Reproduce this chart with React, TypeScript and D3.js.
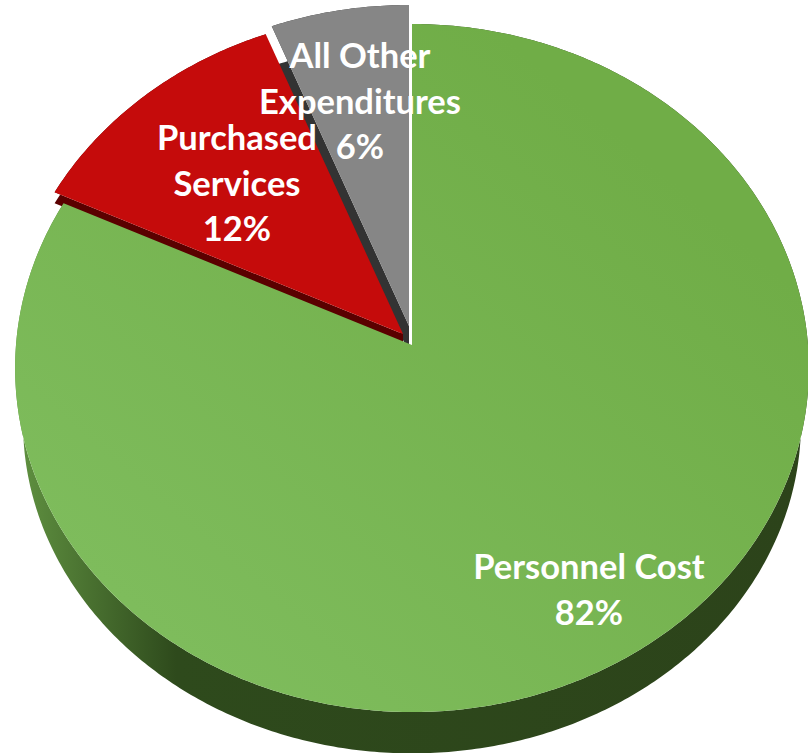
// 3D exploded pie: budget share by expenditure type
import * as d3 from "d3";

const categories = ["Personnel Cost", "Purchased Services", "All Other Expenditures"];
const values = [82, 12, 6];
const labelLines = [["Personnel Cost"], ["Purchased", "Services"], ["All Other", "Expenditures"]];

const topColors = ["url(#greenTop)", "#c50b0b", "#868686"];
const wallColors = ["url(#greenWall)", "#5a0000", "#333333"];
const explode = [[0, 0], [-9, -11], [-3, -19]];
// lower rim of each slice: depth, x scale, y scale, radius
const wallDepth = [56, 11, 27];
const wallScaleX = [0.98, 1, 1];
const wallScaleY = [0.96, 1, 1];
const wallRadius = [1, 1, 0.96];
const labelAnchor = [[589, 579], [237, 150], [360, 68]];

const width = 808;
const height = 753;
const cx = 412;
const cy = 345;
const rx = 396;
const ry = 342.5;
const tilt = 0.0669;

// circle on the tilted plane to screen, far side is smaller
function project(angle: number, r: number, dx: number, dy: number): [number, number] {
  const u = Math.sin(angle) * r;
  const v = Math.cos(angle) * r;
  const w = 1 + tilt * v;
  return [cx + dx + (rx * u) / w, cy + dy - (ry * v) / w];
}

const line = d3.line().curve(d3.curveLinear);

export default function App() {
  const arcs = d3.pie<number>().sort(null)(values);

  const slices = arcs.map((a, i) => {
    const [dx, dy] = explode[i];
    const n = Math.max(12, Math.round((a.endAngle - a.startAngle) * 90));
    const angles = d3.range(n + 1).map((k) => a.startAngle + ((a.endAngle - a.startAngle) * k) / n);
    const rim = angles.map((t) => project(t, 1, dx, dy));
    const apex: [number, number] = [cx + dx, cy + dy];
    const top = line([apex, ...rim]) + "Z";

    // lower rim is a little smaller than the top one
    const lower = (p: [number, number]): [number, number] => [
      apex[0] + (p[0] - apex[0]) * wallScaleX[i],
      apex[1] + (p[1] - apex[1]) * wallScaleY[i] + wallDepth[i],
    ];
    const lowerRim = angles.map((t) => lower(project(t, wallRadius[i], dx, dy)));
    const wall = line([apex, ...rim, ...lowerRim.slice().reverse(), lower(apex)]) + "Z";
    return { key: categories[i], top, wall, i };
  });

  return (
    <svg
      width={width}
      height={height}
      viewBox={`0 0 ${width} ${height}`}
      style={{ position: "absolute", left: 0, top: 0, display: "block", background: "#fff" }}
    >
      <defs>
        <linearGradient id="greenTop" x1="0" y1="1" x2="1" y2="0">
          <stop offset="0.15" stopColor="#7ebc5c" />
          <stop offset="0.8" stopColor="#70ad47" />
        </linearGradient>
        <linearGradient id="greenWall" gradientUnits="userSpaceOnUse" x1="20" y1="0" x2="800" y2="0">
          <stop offset="0" stopColor="#5f9040" />
          <stop offset="0.2" stopColor="#2e4a1c" />
          <stop offset="1" stopColor="#2c431a" />
        </linearGradient>
      </defs>

      {/* back to front: gray, red, green */}
      {slices
        .slice()
        .reverse()
        .map((s) => (
          <g key={s.key}>
            <path d={s.wall} fill={wallColors[s.i]} />
            <path d={s.top} fill={topColors[s.i]} />
          </g>
        ))}

      {labelLines.map((lines, i) => (
        <text
          key={categories[i]}
          x={labelAnchor[i][0]}
          y={labelAnchor[i][1]}
          textAnchor="middle"
          fill="#fff"
          fontFamily="Lato, sans-serif"
          fontWeight={700}
          fontSize={34.5}
        >
          {[...lines, `${values[i]}%`].map((t, k) => (
            <tspan key={k} x={labelAnchor[i][0]} dy={k === 0 ? 0 : 45.5}>
              {t}
            </tspan>
          ))}
        </text>
      ))}
    </svg>
  );
}
